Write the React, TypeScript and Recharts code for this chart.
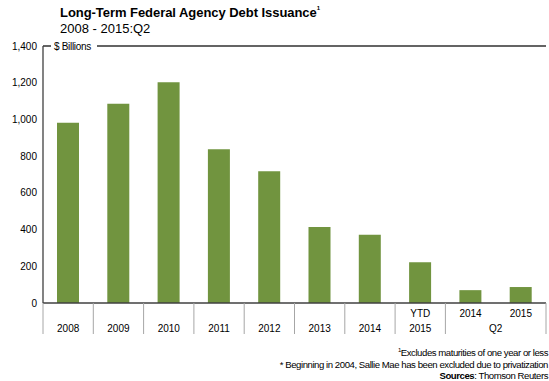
import React from 'react';
import { BarChart, Bar, XAxis, YAxis, ReferenceLine } from 'recharts';

const categories = ['2008', '2009', '2010', '2011', '2012', '2013', '2014', 'YTD2015', 'Q2-2014', 'Q2-2015'];
const topRow = ['', '', '', '', '', '', '', 'YTD', '2014', '2015'];
const bottomRow = ['2008', '2009', '2010', '2011', '2012', '2013', '2014', '2015', '', ''];
const groupLabel = 'Q2';
const issuance = [982, 1085, 1203, 838, 718, 414, 372, 222, 70, 87];
const yTicks = [0, 200, 400, 600, 800, 1000, 1200, 1400];

const data = categories.map((c, i) => ({ name: c, value: issuance[i], top: topRow[i], bottom: bottomRow[i] }));

const FONT = 'Liberation Sans, Arial, sans-serif';

const XTick = (props: any) => {
  const { x, y, payload, index } = props;
  const half = payload && payload.offset ? payload.offset : 25.15;
  const d = data[index];
  const sepColor = '#a6a6a6';
  return (
    <g>
      {index !== 9 && (
        <line x1={x - half} x2={x - half} y1={y} y2={y + 31} stroke={sepColor} strokeWidth={1} />
      )}
      {index === 9 && (
        <line x1={x + half} x2={x + half} y1={y} y2={y + 31} stroke={sepColor} strokeWidth={1} />
      )}
      {d.top && (
        <text x={x} y={y + 14} textAnchor="middle" fontSize={10} fontFamily={FONT} fill="#000">{d.top}</text>
      )}
      {d.bottom && (
        <text x={x} y={y + 29} textAnchor="middle" fontSize={10} fontFamily={FONT} fill="#000">{d.bottom}</text>
      )}
      {index === 8 && (
        <text x={x + half} y={y + 29} textAnchor="middle" fontSize={10} fontFamily={FONT} fill="#000">{groupLabel}</text>
      )}
    </g>
  );
};

const YTick = (props: any) => {
  const { y, payload } = props;
  return (
    <text x={37} y={y + 3.5} textAnchor="end" fontSize={10} fontFamily={FONT} fill="#000">
      {Number(payload.value).toLocaleString('en-US')}
    </text>
  );
};

const TopLabel = (props: any) => {
  const vb = props.viewBox || {};
  const x = vb.x ?? 43;
  const y = vb.y ?? 46;
  return (
    <g>
      <rect x={x + 8} y={y - 6} width={46} height={12} fill="#fff" />
      <text x={x + 11} y={y + 3.5} fontSize={10} fontFamily={FONT} fill="#000" letterSpacing={-0.3}>$ Billions</text>
    </g>
  );
};

export default function App() {
  return (
    <div style={{ position: 'absolute', left: 0, top: 0, width: 549, height: 381, background: '#fff', fontFamily: FONT, overflow: 'hidden' }}>
      <div style={{ position: 'absolute', left: 60, top: 5, fontSize: 13, fontWeight: 'bold', color: '#000', whiteSpace: 'nowrap', letterSpacing: -0.05 }}>
        Long-Term Federal Agency Debt Issuance<sup style={{ fontSize: 6, verticalAlign: 'top', position: 'relative', top: 0 }}>1</sup>
      </div>
      <div style={{ position: 'absolute', left: 60, top: 21, fontSize: 13, color: '#000', whiteSpace: 'nowrap' }}>
        2008 - 2015:Q2
      </div>
      <BarChart width={549} height={381} data={data} margin={{ top: 46, right: 3, bottom: 47, left: 0 }} barCategoryGap={0}>
        <XAxis dataKey="name" height={31} tickLine={false} tickSize={0} tickMargin={0} interval={0}
          axisLine={{ stroke: '#404040', strokeWidth: 1.3 }} tick={<XTick />} />
        <YAxis yAxisId="left" width={43} domain={[0, 1400]} ticks={yTicks} tickLine={false}
          axisLine={{ stroke: '#404040', strokeWidth: 1.3 }} tick={<YTick />} />
        <YAxis yAxisId="right" orientation="right" width={0} domain={[0, 1400]} tick={false} tickLine={false}
          axisLine={{ stroke: '#808080', strokeWidth: 2 }} />
        <ReferenceLine yAxisId="left" y={1400} stroke="#303030" strokeWidth={1.3} label={<TopLabel />} />
        <Bar yAxisId="left" dataKey="value" fill="#71943f" barSize={22} isAnimationActive={false} />
      </BarChart>
      <div style={{ position: 'absolute', right: 1, top: 345, fontSize: 9.6, color: '#000', textAlign: 'right', lineHeight: '11.5px', letterSpacing: -0.45, whiteSpace: 'nowrap' }}>
        <div><sup style={{ fontSize: 6 }}>1</sup>Excludes maturities of one year or less</div>
        <div>* Beginning in 2004, Sallie Mae has been excluded due to privatization</div>
        <div><b>Sources</b>: Thomson Reuters</div>
      </div>
    </div>
  );
}
